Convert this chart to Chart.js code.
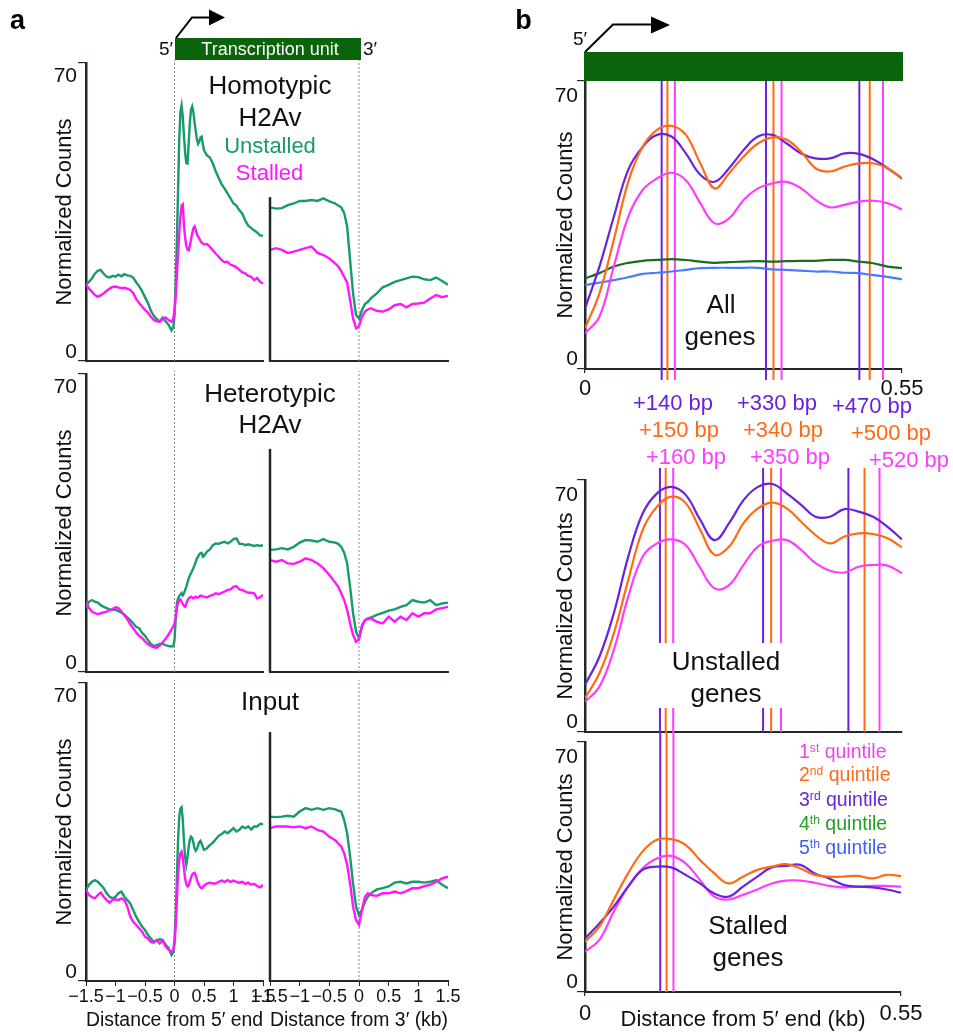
<!DOCTYPE html>
<html>
<head>
<meta charset="utf-8">
<script src="https://cdn.jsdelivr.net/npm/chart.js@4.4.1/dist/chart.umd.min.js"></script>
<style>
  body { margin: 0; background: #fff; }
  #fig { position: relative; width: 953px; height: 1033px; overflow: hidden; font-family: 'Liberation Sans', Arial, sans-serif; color: #111; }
  #fig canvas { position: absolute; }
  .lbl { position: absolute; white-space: nowrap; line-height: 1; transform: translate(-50%, -50%); }
  .bar { position: absolute; background: #0b630b; }
  .sup { position: relative; top: -0.5em; font-size: 0.62em; }
</style>
</head>
<body>
<div id="fig">
  <canvas id="a1L"></canvas><canvas id="a1R"></canvas>
  <canvas id="a2L"></canvas><canvas id="a2R"></canvas>
  <canvas id="a3L"></canvas><canvas id="a3R"></canvas>
  <canvas id="b1"></canvas><canvas id="b2"></canvas><canvas id="b3"></canvas>
  <div class="bar" style="left:175px;top:38px;width:186px;height:22px"></div>
  <div class="bar" style="left:584px;top:52px;width:319px;height:29px"></div>
  <svg width="953" height="1033" style="position:absolute;left:0;top:0">
    <polyline points="176,38 192,17.5 211,17.5" fill="none" stroke="#000" stroke-width="2"/>
    <polygon points="209,9.5 225,17.5 209,25.5" fill="#000"/>
    <polyline points="585,52 613,24.5 654,24.5" fill="none" stroke="#000" stroke-width="2"/>
    <polygon points="651,16.5 670,25 651,33.5" fill="#000"/>
  </svg>
</div>
<script>
// ---------- panel a data (distance in kb) ----------
const xLeft = [-1.5,-1.45,-1.4,-1.35,-1.3,-1.25,-1.2,-1.15,-1.1,-1.05,-1,-0.95,-0.9,-0.85,-0.8,-0.75,-0.7,-0.65,-0.6,-0.55,
  -0.5,-0.45,-0.4,-0.35,-0.3,-0.25,-0.2,-0.15,-0.1,-0.05,-0.02,
  0,0.02,0.04,0.06,0.08,0.1,0.12,0.14,0.16,0.18,0.2,0.22,0.24,0.26,0.28,0.3,0.32,0.34,0.36,0.38,0.4,0.42,0.44,0.46,0.48,0.5,
  0.55,0.6,0.65,0.7,0.75,0.8,0.85,0.9,0.95,1,1.05,1.1,1.15,1.2,1.25,1.3,1.35,1.4,1.45,1.5];
const xRight = [-1.5,-1.4,-1.3,-1.2,-1.1,-1,-0.9,-0.8,-0.7,-0.6,-0.5,-0.4,
  -0.35,-0.3,-0.25,-0.2,-0.15,-0.1,-0.05,0,0.05,0.1,0.15,0.2,
  0.3,0.4,0.5,0.6,0.7,0.8,0.9,1,1.1,1.2,1.3,1.4,1.5];
const yTicks = [0, 70];
const xTicksA = [-1.5, -1, -0.5, 0, 0.5, 1, 1.5];
const xTicksB = [0, 0.55];

const homoUnstalled5 = [17.9,18.6,19.4,20.5,21.2,21.4,20.5,19.8,19.6,20.0,19.8,20.3,19.9,20.4,20.1,20.0,19.6,18.5,17.6,16.4,
  15.0,13.6,11.8,10.6,9.8,9.3,10.2,9.3,8.5,7.2,8.0,
  10.5,18,28,40,52,58.5,60,57.5,53,49,46.5,46.4,51,56,59,59.8,58.5,56,54,52,51,51.5,52.5,52.7,51,49.5,
  48.3,47.8,46.4,44.5,43,41.5,40.5,39.3,38.2,37,36.5,35.4,34.6,33,31.8,31.2,30.7,30.2,29.5,29.4];
const homoStalled5 = [17.9,17.0,16.3,15.5,15.1,15.4,15.9,16.5,17.0,17.4,17.5,17.3,17.1,17.2,17.0,16.7,16.0,14.6,13.6,12.8,
  12.0,11.4,10.4,9.6,9.3,9.2,9.8,10.2,9.6,9.2,10.0,
  12,15,20,25,30,34,36.5,36.8,32,29,27,26.2,26,27,28.5,30,31.2,31.6,30.8,29.8,29.2,28.8,28.2,27.8,27.6,27.4,
  27.5,26.8,26,25.2,24.5,23.7,23.2,23.3,22.6,22.4,22.0,21.4,20.8,20.6,20.0,19.8,19.0,19.5,18.6,18.2];
const homoUnstalled3 = [36.1,35.8,35.9,36.6,37.0,37.6,37.6,37.8,37.6,38.2,37.5,37.0,
  36.5,36.1,34.8,31.6,23.7,15.9,10.8,10.0,12.0,13.4,13.9,14.7,
  15.9,17.3,17.9,18.6,19.0,19.4,19.8,19.7,19.2,19.0,19.6,18.8,17.9];
const homoStalled3 = [26.1,26.5,26.1,25.4,25.7,26.1,26.5,26.9,25.4,24.9,24.1,22.9,
  22.2,21.1,19.8,18.4,14.3,10.0,7.7,8.1,10.4,11.6,12.1,12.4,
  11.8,11.6,12.1,13.1,13.4,12.6,13.4,13.5,13.7,14.7,15.5,15.0,15.3];

const heteroUnstalled5 = [15.0,16.5,16.9,16.5,16.3,15.7,15.3,15.0,14.7,14.6,14.6,14.3,13.9,13.5,12.8,12.2,11.4,10.6,10.3,9.2,
  8.5,7.5,6.6,6.1,6.3,6.6,6.6,6.3,6.1,6.0,6.1,
  7.5,12.2,16.1,17.3,17.9,18.1,18.5,18.0,18.5,19.3,20.0,21.0,22.0,22.6,23.2,23.8,24.4,25.1,25.9,26.7,27.1,27.7,27.9,28.0,27.1,27.3,
  28.3,28.8,29.8,30.2,30.1,30.4,30.6,30.2,30.6,31.2,31.4,30.1,30.1,29.8,30.0,29.8,29.6,29.8,29.6,29.8];
const heteroStalled5 = [16.5,15.0,14.2,13.8,13.6,13.8,14.0,14.2,14.5,14.8,15.2,15.0,14.2,13.3,12.4,11.2,10.3,9.3,8.5,8.0,
  7.2,6.5,6.1,5.8,5.7,6.2,7.0,7.8,8.8,10.0,10.8,
  11.4,13.0,15.0,16.3,16.9,17.1,16.5,16.0,15.5,15.3,16.0,16.8,17.3,17.5,17.7,17.5,17.3,17.5,17.7,17.5,17.5,17.7,17.9,17.9,17.7,17.7,
  17.5,17.9,18.1,18.5,18.3,18.6,18.9,19.3,19.4,20.0,20.2,19.4,19.3,18.9,18.6,18.6,18.5,17.3,17.5,18.1];
const heteroUnstalled3 = [28.7,28.8,29.1,28.8,29.4,30.4,31.0,30.9,30.6,31.2,30.6,30.4,
  30.1,29.4,28.0,25.5,20.0,13.8,9.5,7.9,10.6,12.1,12.6,12.8,
  13.4,13.9,14.4,14.7,15.3,15.7,16.9,16.5,16.3,16.9,15.7,16.1,16.3];
const heteroStalled3 = [26.3,25.9,26.3,25.5,25.4,25.9,26.7,26.3,25.5,24.4,22.8,21.0,
  20.0,18.5,16.9,14.6,11.4,8.7,7.1,7.7,11.0,12.2,12.4,12.6,
  11.8,11.4,13.0,11.8,13.0,12.2,13.8,13.0,13.8,13.8,14.7,15.0,15.3];

const inputUnstalled5 = [21.4,22.6,23.3,23.7,23.3,22.6,21.8,20.6,19.8,19.4,19.8,20.6,21.0,19.8,19.0,18.2,16.7,15.1,13.9,12.8,
  12.0,10.8,10.0,9.2,9.6,9.8,9.6,8.5,7.7,6.1,6.9,
  9.6,15,24,33,38.5,40.5,40.8,38,33,29,27.3,29,31.5,33.2,33.9,33.6,32.5,31.2,30.6,31.0,31.8,32.6,32.9,32.3,31.5,30.8,
  31.2,31.9,32.5,33.3,34.1,34.5,35.1,34.7,35.3,35.9,35.1,35.5,36.3,35.9,36.3,35.6,36.3,36.3,36.9,36.9];
const inputStalled5 = [21.4,20.2,19.7,19.4,20.2,20.8,19.8,19.0,18.4,19.0,19.2,19.0,19.4,19.0,17.5,15.1,13.9,13.2,12.4,11.6,
  10.4,10.0,9.2,9.0,9.6,8.8,9.5,8.1,7.3,6.9,7.3,
  8.8,13,19,25,28.5,30,30.4,29,26.5,24,22.8,22.2,22.4,23.4,24.3,25.0,25.3,25.4,24.8,23.8,23.0,22.4,22.0,21.8,22.0,22.4,
  22.9,23.1,22.9,22.9,23.3,23.6,23.3,23.7,23.3,23.6,23.3,23.1,23.3,22.8,23.1,22.6,22.8,22.3,22.0,22.6];
const inputUnstalled3 = [38.6,38.5,38.6,38.8,38.6,39.8,40.6,40.2,40.6,40.2,40.6,40.3,
  40.0,39.8,37.8,34.7,29.2,22.9,17.5,15.5,16.7,18.6,19.8,20.6,
  21.5,21.8,22.2,23.1,23.3,22.9,23.3,23.3,23.1,23.3,23.7,22.6,21.8];
const inputStalled3 = [35.9,36.3,36.3,36.3,36.1,36.3,35.9,36.3,35.5,35.1,33.9,33.1,
  32.3,31.6,30.0,27.3,22.9,17.5,14.3,13.2,16.7,19.8,20.6,20.2,
  20.0,20.6,20.6,21.0,20.6,21.1,21.8,21.8,22.3,22.6,23.3,24.1,24.5];

// partial y-axis of the 3' plots and the height of the dotted TSS / TES lines
const rightAxisTop = [38.5, 52.4, 58.5];
const dotTop = 70.7;

// ---------- panel b data (distance from 5' end in kb) ----------
const xB = [0,0.025,0.05,0.075,0.1,0.125,0.15,0.175,0.2,0.225,0.25,0.275,0.3,0.325,0.35,0.375,0.4,0.425,0.45,0.475,0.5,0.525,0.55];

const allQ1 = [8.7,12.7,24.9,37.0,43.5,46.3,47.7,45.9,40.3,35.4,36.6,41.1,43.9,45.1,45.5,43.9,41.1,39.3,39.9,40.7,40.9,40.3,38.8];
const allQ2 = [9.9,18.4,31.4,45.5,54.0,58.1,59.1,56.9,50.0,43.9,47.6,51.6,54.8,56.3,55.7,52.8,48.8,48.0,49.2,50.0,50.0,48.8,46.3];
const allQ3 = [14.7,24.9,37.0,48.4,54.0,56.9,56.5,52.4,47.2,45.5,48.8,53.2,56.5,56.9,54.8,52.4,51.2,51.2,52.4,52.3,51.0,48.8,46.3];
const allQ4 = [22.0,23.3,24.9,25.8,26.3,26.5,26.7,26.5,26.1,25.8,26.0,26.1,26.2,26.1,26.2,26.3,26.3,26.5,26.5,26.1,25.7,24.9,24.5];
const allQ5 = [20.4,21.0,21.6,22.3,23.1,23.4,23.7,24.1,24.5,24.6,24.6,24.6,24.6,24.2,24.1,23.9,23.7,23.7,23.4,23.3,22.8,22.4,21.8];

const unstQ1 = [8.4,12.6,22.8,37.6,48.7,52.4,53.5,51.9,45.5,39.9,40.8,46.4,51.5,53.1,53.3,50.6,46.9,44.8,44.3,45.9,46.4,46.2,44.1];
const unstQ2 = [9.4,16.3,27.4,42.2,56.1,62.6,65.4,63.5,56.1,49.2,51.5,58.0,62.1,63.7,62.1,58.4,54.7,52.4,54.3,55.2,55.0,53.8,51.3];
const unstQ3 = [13.1,20.9,33.0,48.7,60.7,66.3,68.1,65.8,58.9,53.3,58.0,64.4,68.1,68.9,66.3,63.1,59.8,59.8,61.9,61.2,59.8,57.0,53.5];

const stallQ1 = [11.3,14.6,22.5,29.5,34.6,37.4,38.1,36.0,31.4,26.7,25.9,27.2,28.7,30.4,31.2,31.2,30.6,29.7,29.3,29.5,29.7,29.7,29.5];
const stallQ2 = [14.1,18.3,25.8,33.2,39.3,42.6,42.8,41.2,37.0,33.2,30.4,32.3,34.2,35.1,35.8,34.6,32.8,32.3,32.3,32.5,31.8,32.8,32.5];
const stallQ3 = [15.0,19.2,23.9,29.5,34.2,35.1,34.9,32.8,30.4,27.6,26.7,29.5,32.3,34.9,35.3,35.6,33.2,31.8,30.0,29.5,29.3,28.7,27.8];

// nucleosome peak markers (kb)
const peaksAllQ3 = [0.133, 0.314, 0.476];
const peaksAllQ2 = [0.143, 0.327, 0.494];
const peaksAllQ1 = [0.156, 0.341, 0.517];
const peaksUnstQ3 = [0.130, 0.309, 0.457];
const peaksUnstQ2 = [0.140, 0.323, 0.485];
const peaksUnstQ1 = [0.153, 0.340, 0.511];
const peaksStallQ3 = [0.131];
const peaksStallQ2 = [0.142];
const peaksStallQ1 = [0.154];

// ---------- styling ----------
const FONT = "'Liberation Sans', Arial, sans-serif";
Chart.defaults.font.family = FONT;
Chart.defaults.color = '#111';
const AXIS = '#1c2b29';
const GREEN_A = '#179b6c', PINK_A = '#ff16ff';
const Q1 = '#ff3dff', Q2 = '#ff6a14', Q3 = '#6b22dc', Q4 = '#1d6b1d', Q5 = '#4a7bff';

// y tick labels sit just inside the axis ends, like the original figure
const endLabels = {
  id: 'endLabels',
  afterDraw(chart, args, o) {
    if (!o.show) return;
    const s = chart.scales.y, ctx = chart.ctx;
    ctx.save();
    ctx.font = o.size + 'px ' + FONT;
    ctx.fillStyle = '#111';
    ctx.textAlign = 'right';
    ctx.textBaseline = 'alphabetic';
    s.ticks.forEach(t => {
      const y = s.getPixelForValue(t.value);
      ctx.fillText(String(t.value), s.right - o.gap, y + (t.value === s.max ? o.topDy : o.botDy));
    });
    ctx.restore();
  }
};

function setCanvas(id, area, yw, xh, pad) {
  const c = document.getElementById(id);
  const w = area.r - area.l + yw + pad.l + pad.r;
  const h = area.b - area.t + pad.t + xh;
  c.width = w; c.height = h;
  c.style.left = (area.l - yw - pad.l) + 'px';
  c.style.top = (area.t - pad.t) + 'px';
  c.style.width = w + 'px';
  c.style.height = h + 'px';
  return c;
}

const rowTops = [63, 374, 683], rowBottoms = [361, 672, 981];

function profileChart(id, row, left, unst, stall) {
  const xs = left ? xLeft : xRight;
  const area = { l: left ? 86 : 270, r: left ? 263 : 448, t: rowTops[row], b: rowBottoms[row] };
  const last = row === 2;
  const yw = left ? 46 : 0, xh = last ? 52 : 3;
  const pad = { l: left ? 0 : 22, r: 18, t: 8 };
  const cv = setCanvas(id, area, yw, xh, pad);
  const pts = arr => xs.map((x, i) => ({ x, y: arr[i] }));
  const datasets = [
    { data: pts(unst), borderColor: GREEN_A, borderWidth: 2.4, order: 2 },
    { data: pts(stall), borderColor: PINK_A, borderWidth: 2.4, order: 1 },
    { data: [{ x: 0, y: 0 }, { x: 0, y: dotTop }], borderColor: '#8a8a8a', borderWidth: 1, borderDash: [2, 2], clip: false, order: 5 }
  ];
  if (!left) {
    datasets.push({ data: [{ x: xTicksA[0], y: 0 }, { x: xTicksA[0], y: rightAxisTop[row] }], borderColor: AXIS, borderWidth: 2.5, clip: false, order: 0 });
  }
  new Chart(cv, {
    type: 'line',
    data: { datasets },
    plugins: [endLabels],
    options: {
      responsive: false, animation: false, events: [],
      layout: { padding: { left: pad.l, right: pad.r, top: pad.t, bottom: 0 } },
      elements: { point: { radius: 0 }, line: { tension: 0 } },
      plugins: { legend: { display: false }, tooltip: { enabled: false },
        endLabels: { show: left, size: 21, gap: 9, topDy: 19, botDy: -3 } },
      scales: {
        x: {
          type: 'linear', min: -1.5, max: 1.5,
          border: { color: AXIS, width: 2 },
          grid: { display: true, drawOnChartArea: false, drawTicks: last, tickLength: 5, color: AXIS, lineWidth: 1 },
          afterBuildTicks: s => { s.ticks = xTicksA.map(v => ({ value: v })); },
          ticks: { display: last, autoSkip: false, maxRotation: 0, padding: 0, font: { size: 18 },
            callback: v => String(v).replace('-', '\u2212') },
          title: { display: last, text: left ? 'Distance from 5\u2032 end' : 'Distance from 3\u2032 (kb)',
            font: { size: 20 }, padding: { top: 0, bottom: 1 } },
          afterFit: s => { s.height = xh; s.paddingLeft = 0; s.paddingRight = 0; }
        },
        y: {
          display: left, min: 0, max: 70,
          border: { color: AXIS, width: 2.5 },
          grid: { display: true, drawOnChartArea: false, drawTicks: true, tickLength: 8, color: AXIS, lineWidth: 1.2 },
          afterBuildTicks: s => { s.ticks = yTicks.map(v => ({ value: v })); },
          ticks: { display: false },
          title: { display: true, text: 'Normalized Counts', font: { size: 22 }, padding: { top: 12, bottom: 0 } },
          afterFit: s => { s.width = yw; s.paddingTop = 0; s.paddingBottom = 0; }
        }
      }
    }
  });
}

profileChart('a1L', 0, true, homoUnstalled5, homoStalled5);
profileChart('a1R', 0, false, homoUnstalled3, homoStalled3);
profileChart('a2L', 1, true, heteroUnstalled5, heteroStalled5);
profileChart('a2R', 1, false, heteroUnstalled3, heteroStalled3);
profileChart('a3L', 2, true, inputUnstalled5, inputStalled5);
profileChart('a3R', 2, false, inputUnstalled3, inputStalled3);

function markerSet(xs, spans, color) {
  const data = [];
  xs.forEach((px, g) => spans[g].forEach(([a, b]) => data.push({ x: px, y: a }, { x: px, y: b }, { x: px, y: null })));
  return { data, borderColor: color, borderWidth: 2, tension: 0, clip: false, order: 10 };
}

function quintileChart(id, area, pad, xh, series, markers, showX, xPad, xTitle) {
  const cv = setCanvas(id, area, 40, xh, pad);
  const datasets = series.map(([arr, color, order]) => ({
    data: xB.map((x, i) => ({ x, y: arr[i] })), borderColor: color, borderWidth: 2.2, tension: 0.4, order
  })).concat(markers);
  new Chart(cv, {
    type: 'line',
    data: { datasets },
    plugins: [endLabels],
    options: {
      responsive: false, animation: false, events: [],
      layout: { padding: { left: pad.l, right: pad.r, top: pad.t, bottom: 0 } },
      elements: { point: { radius: 0 } },
      plugins: { legend: { display: false }, tooltip: { enabled: false },
        endLabels: { show: true, size: 21, gap: 7, topDy: 21, botDy: -4 } },
      scales: {
        x: {
          type: 'linear', min: 0, max: 0.55,
          border: { color: AXIS, width: 2 },
          grid: { display: true, drawOnChartArea: false, drawTicks: showX, tickLength: 4, color: AXIS, lineWidth: 1.2 },
          afterBuildTicks: s => { s.ticks = xTicksB.map(v => ({ value: v })); },
          ticks: { display: showX, autoSkip: false, maxRotation: 0, padding: xPad, font: { size: 22 }, callback: v => String(v) },
          title: { display: !!xTitle, text: xTitle || '', font: { size: 22 }, padding: { top: 0, bottom: 0 } },
          afterFit: s => { s.height = xh; s.paddingLeft = 0; s.paddingRight = 0; }
        },
        y: {
          min: 0, max: 70,
          border: { color: AXIS, width: 2.5 },
          grid: { display: true, drawOnChartArea: false, drawTicks: true, tickLength: 8, color: AXIS, lineWidth: 1.2 },
          afterBuildTicks: s => { s.ticks = yTicks.map(v => ({ value: v })); },
          ticks: { display: false },
          title: { display: true, text: 'Normalized Counts', font: { size: 22 }, padding: { top: 8, bottom: 0 } },
          afterFit: s => { s.width = 40; s.paddingTop = 0; s.paddingBottom = 0; }
        }
      }
    }
  });
}

const spanAll = [[[70, -2.7]], [[70, -2.7]], [[70, -2.7]]];
const spanUnst = [[[73.3, 24.7], [6.7, 0]], [[73.3, 24.7], [6.7, 0]], [[73.3, 0]]];
const spanStall = [[[72.8, 0]]];

quintileChart('b1', { l: 585, r: 902, t: 81, b: 369 }, { l: 0, r: 34, t: 4 }, 32,
  [[allQ5, Q5, 4], [allQ4, Q4, 3], [allQ1, Q1, 2], [allQ3, Q3, 1], [allQ2, Q2, 0]],
  [markerSet(peaksAllQ3, spanAll, Q3), markerSet(peaksAllQ2, spanAll, Q2), markerSet(peaksAllQ1, spanAll, Q1)],
  true, 3, '');
quintileChart('b2', { l: 585, r: 902, t: 480, b: 732 }, { l: 0, r: 10, t: 14 }, 3,
  [[unstQ1, Q1, 2], [unstQ3, Q3, 1], [unstQ2, Q2, 0]],
  [markerSet(peaksUnstQ3, spanUnst, Q3), markerSet(peaksUnstQ2, spanUnst, Q2), markerSet(peaksUnstQ1, spanUnst, Q1)],
  false, 0, '');
quintileChart('b3', { l: 585, r: 901, t: 742, b: 992 }, { l: 0, r: 30, t: 12 }, 41,
  [[stallQ1, Q1, 2], [stallQ3, Q3, 1], [stallQ2, Q2, 0]],
  [markerSet(peaksStallQ3, spanStall, Q3), markerSet(peaksStallQ2, spanStall, Q2), markerSet(peaksStallQ1, spanStall, Q1)],
  true, 5, 'Distance from 5\u2032 end (kb)');

// ---------- text annotations ----------
const fig = document.getElementById('fig');
function note(html, cx, cy, size, color, extra) {
  const d = document.createElement('div');
  d.className = 'lbl';
  d.innerHTML = html;
  d.style.left = cx + 'px';
  d.style.top = cy + 'px';
  d.style.fontSize = size + 'px';
  d.style.color = color || '#111';
  if (extra) Object.assign(d.style, extra);
  fig.appendChild(d);
}
const bold = { fontWeight: 'bold' };
note('a', 17.5, 19.7, 27, '#000', bold);
note('b', 523.5, 19.6, 27, '#000', bold);
note('5\u2032', 166, 48, 19);
note('3\u2032', 370, 48, 19);
note('Transcription unit', 270, 49, 18, '#fff');
note('Homotypic', 270, 85, 26);
note('H2Av', 270, 117, 26);
note('Unstalled', 270, 145.5, 22, GREEN_A);
note('Stalled', 269.5, 173, 22, PINK_A);
note('Heterotypic', 270, 393, 26);
note('H2Av', 270, 424, 26);
note('Input', 270, 701, 26);
note('5\u2032', 580, 38, 19);
note('All', 721, 304, 26);
note('genes', 720, 336, 26);
note('+140 bp', 673, 403, 22, Q3);
note('+150 bp', 679, 430, 22, Q2);
note('+160 bp', 686, 457, 22, Q1);
note('+330 bp', 777, 403, 22, Q3);
note('+340 bp', 783, 430, 22, Q2);
note('+350 bp', 790, 457, 22, Q1);
note('+470 bp', 872, 406, 22, Q3);
note('+500 bp', 891, 433, 22, Q2);
note('+520 bp', 909, 460, 22, Q1);
note('Unstalled', 726, 661, 26);
note('genes', 726, 693, 26);
note('Stalled', 748, 925, 26);
note('genes', 748, 957, 26);
const leftAlign = { transform: 'translate(0, -50%)' };
note('1<span class="sup">st</span> quintile', 799, 752, 19.5, '#ee44ee', leftAlign);
note('2<span class="sup">nd</span> quintile', 799, 775, 19.5, '#ff6a1a', leftAlign);
note('3<span class="sup">rd</span> quintile', 799, 800, 19.5, '#6a26d8', leftAlign);
note('4<span class="sup">th</span> quintile', 799, 824, 19.5, '#22a022', leftAlign);
note('5<span class="sup">th</span> quintile', 799, 848, 19.5, '#3d5ef5', leftAlign);
</script>
</body>
</html>
